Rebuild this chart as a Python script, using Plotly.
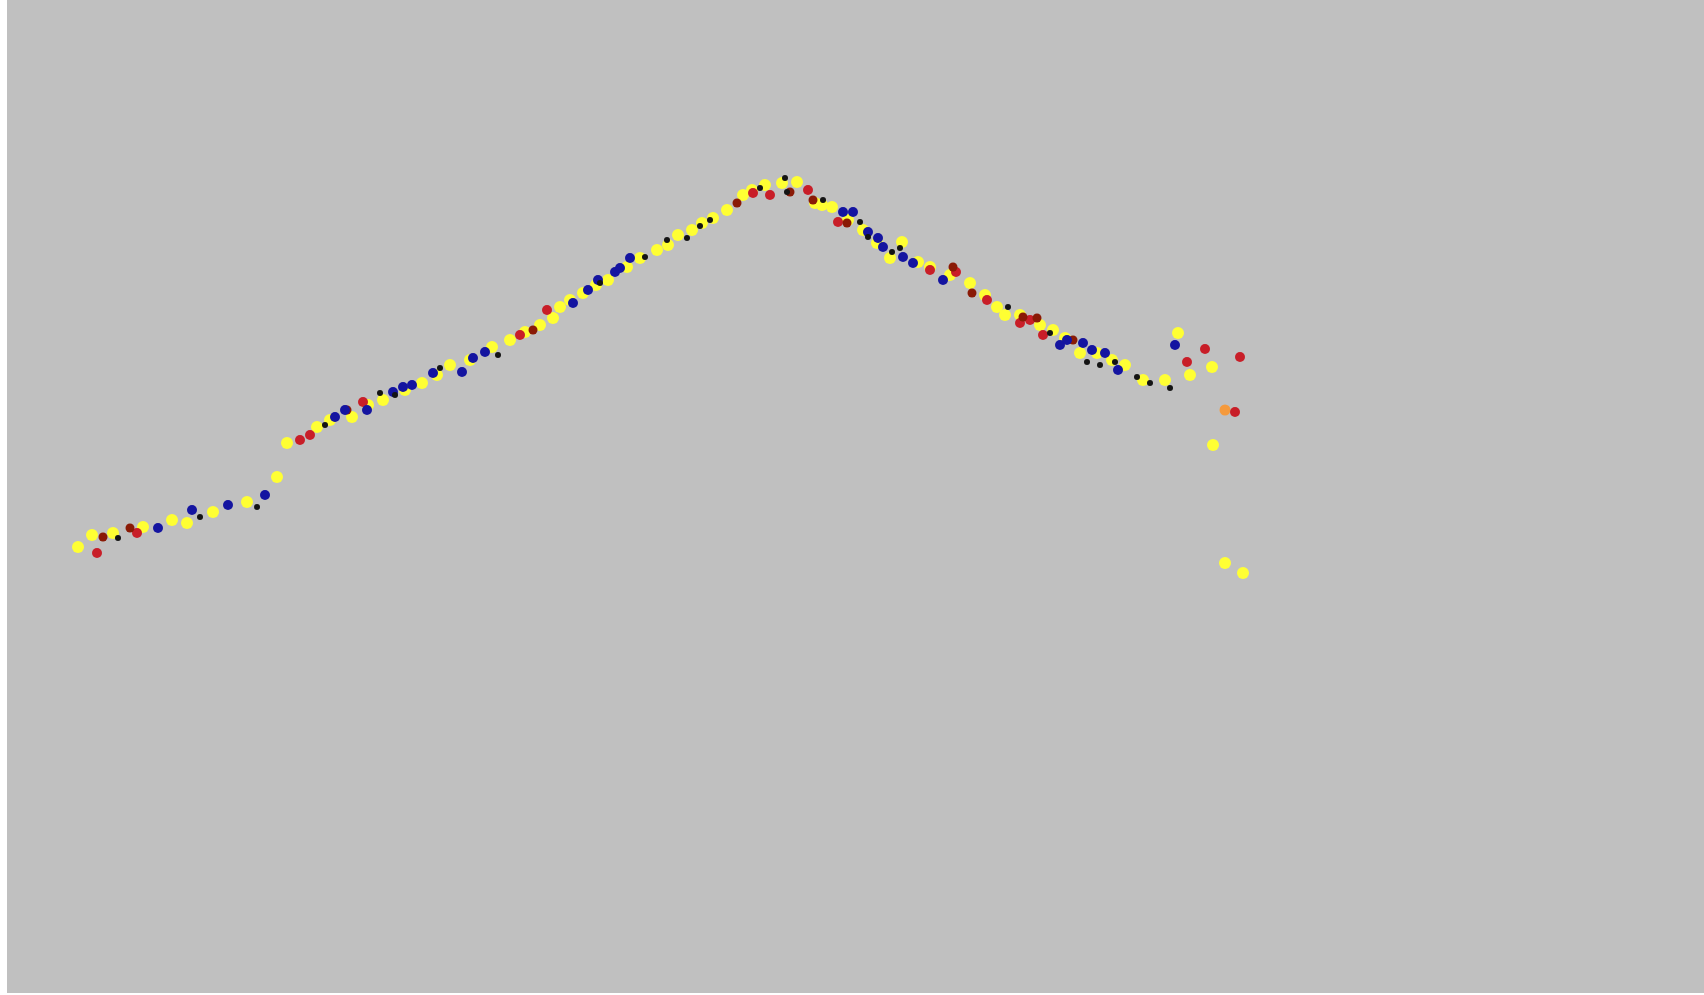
import plotly.graph_objects as go

# Values (horizontal position, vertical depth)
yellow_x = [78, 92, 113, 143, 172, 187, 213, 247, 277, 287, 317, 330, 352, 368, 383, 405, 422, 437, 450, 470,
            492, 510, 525, 540, 553, 560, 570, 583, 596, 608, 627, 640, 657, 668, 678, 692, 702, 713, 727, 743,
            752, 765, 782, 797, 815, 822, 832, 848, 863, 877, 890, 902, 918, 930, 950, 970, 985, 997, 1005, 1020,
            1040, 1053, 1065, 1080, 1097, 1112, 1125, 1143, 1165, 1178, 1190, 1212, 1213, 1225, 1243]
yellow_y = [547, 535, 533, 527, 520, 523, 512, 502, 477, 443, 427, 420, 417, 405, 400, 390, 383, 375, 365, 360,
            347, 340, 332, 325, 318, 307, 300, 293, 285, 280, 267, 258, 250, 245, 235, 230, 223, 218, 210, 195,
            190, 185, 183, 182, 203, 205, 207, 220, 230, 243, 258, 242, 262, 267, 275, 283, 295, 307, 315, 315,
            325, 330, 338, 353, 353, 360, 365, 380, 380, 333, 375, 367, 445, 563, 573]

red_x = [97, 137, 300, 310, 363, 520, 547, 753, 770, 808, 838, 930, 956, 987, 1020, 1030, 1043, 1187, 1205, 1240,
         1235]
red_y = [553, 533, 440, 435, 402, 335, 310, 193, 195, 190, 222, 270, 272, 300, 323, 320, 335, 362, 349, 357, 412]

darkred_x = [103, 130, 347, 533, 737, 790, 813, 847, 953, 972, 1023, 1037, 1073]
darkred_y = [537, 528, 410, 330, 203, 192, 200, 223, 267, 293, 317, 318, 340]

orange_x = [1225]
orange_y = [410]

blue_x = [158, 192, 228, 265, 335, 345, 367, 393, 403, 412, 433, 462, 473, 485, 573, 588, 598, 615, 620, 630,
          843, 853, 868, 878, 883, 903, 913, 943, 1060, 1067, 1083, 1092, 1105, 1118, 1175]
blue_y = [528, 510, 505, 495, 417, 410, 410, 392, 387, 385, 373, 372, 358, 352, 303, 290, 280, 272, 268, 258,
          212, 212, 232, 238, 247, 257, 263, 280, 345, 340, 343, 350, 353, 370, 345]

black_x = [118, 200, 257, 325, 380, 395, 440, 498, 600, 645, 667, 687, 700, 710, 760, 785, 787, 823, 860, 868,
           892, 900, 1008, 1050, 1087, 1100, 1115, 1137, 1150, 1170]
black_y = [538, 517, 507, 425, 393, 395, 368, 355, 283, 257, 240, 238, 226, 220, 188, 178, 192, 200, 222, 237,
           252, 248, 307, 333, 362, 365, 362, 377, 383, 388]

series = [
    ("yellow", yellow_x, yellow_y, "#ffff33", 12),
    ("orange", orange_x, orange_y, "#f59a3c", 11),
    ("red", red_x, red_y, "#c81e28", 10),
    ("darkred", darkred_x, darkred_y, "#8a1a06", 9),
    ("blue", blue_x, blue_y, "#1414a0", 10),
    ("black", black_x, black_y, "#141414", 6),
]

fig = go.Figure()
for name, xs, ys, color, size in series:
    fig.add_trace(go.Scatter(
        x=xs, y=ys, mode="markers", name=name,
        marker=dict(color=color, size=size, line=dict(width=0)),
        showlegend=False,
    ))

fig.update_layout(
    width=1704, height=995,
    margin=dict(l=7, r=0, t=0, b=2, pad=0),
    paper_bgcolor="white",
    plot_bgcolor="#c0c0c0",
    xaxis=dict(range=[7, 1704], visible=False, showgrid=False, zeroline=False, fixedrange=True),
    yaxis=dict(range=[993, 0], visible=False, showgrid=False, zeroline=False, fixedrange=True),
)

fig.write_html(
    "out.html",
    config={"displayModeBar": False},
    post_script="document.body.style.margin='0';document.body.style.overflow='hidden';",
)
